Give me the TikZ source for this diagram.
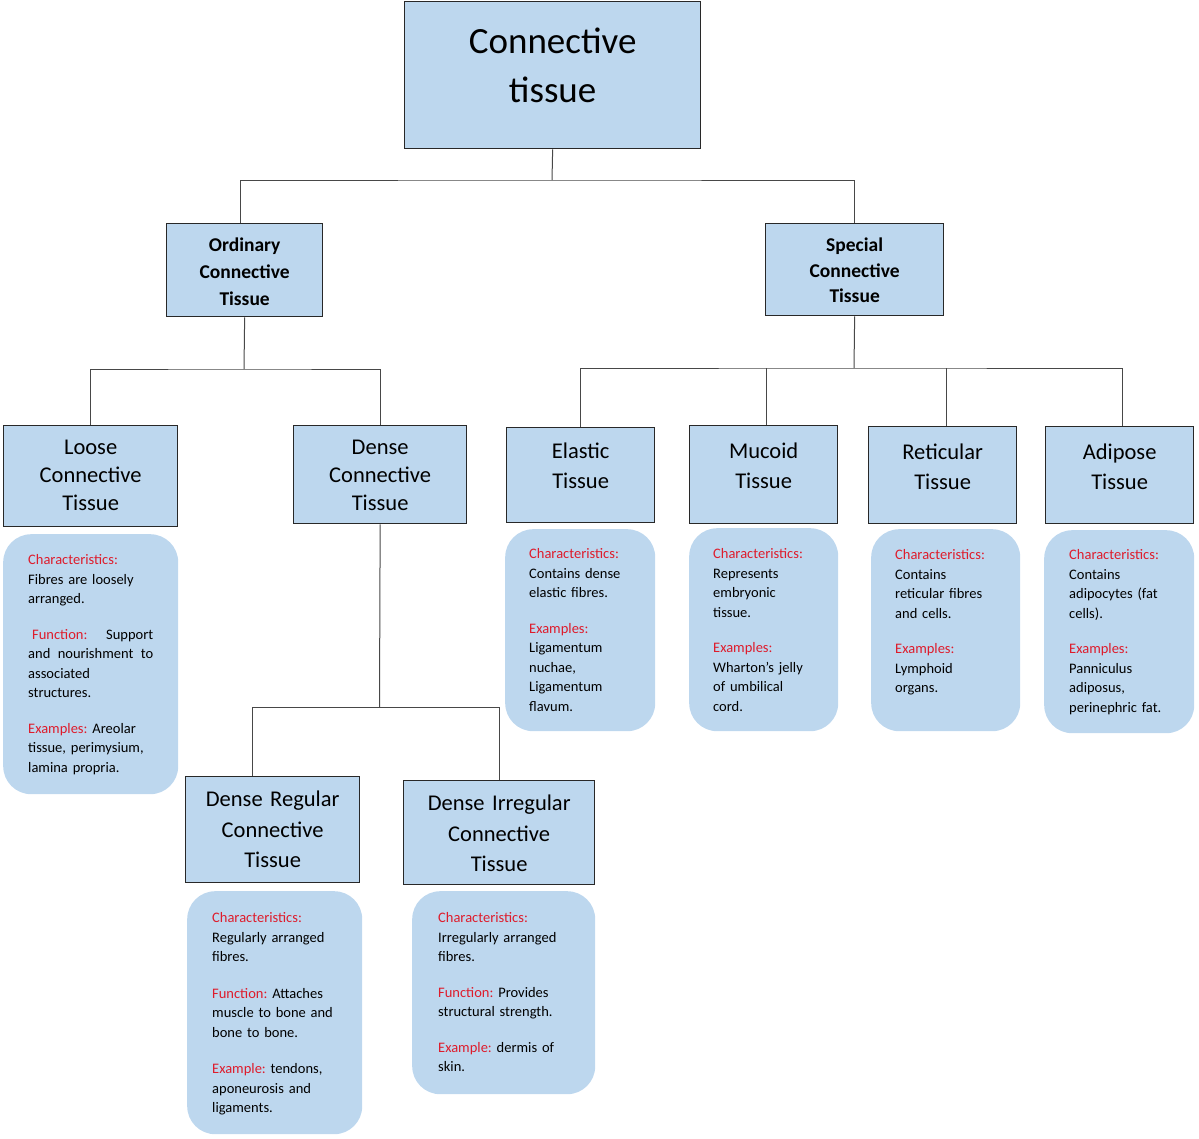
\documentclass[tikz,border=0pt]{standalone}
\usepackage{fontspec}
\setmainfont{Carlito}
\frenchspacing

\definecolor{boxblue}{RGB}{189,215,238}
\definecolor{lblred}{RGB}{222,28,44}
\definecolor{edgegray}{RGB}{40,40,40}
\newcommand\lbl[1]{\textcolor{lblred}{#1}}

\begin{document}
\begin{tikzpicture}[x=1pt, y=-1pt,
  tbox/.style={draw=edgegray, line width=1.3pt, fill=boxblue, inner sep=0pt, align=center, anchor=north west},
  infobox/.style={fill=boxblue, rounded corners=28pt, inner xsep=25pt, inner ysep=0pt, align=left, anchor=north west,
    font=\fontsize{14.5}{19.5}\selectfont},
  link/.style={draw=edgegray!85, line width=1pt}]
  \useasboundingbox (0,0) rectangle (1199,1138);

  % top level
  \node[tbox, text width=296pt, text height=52pt, text depth=95pt, font=\fontsize{37}{49}\selectfont] (root) at (404,1) {Connective\\tissue};
  \node[tbox, text width=156pt, text height=28pt, text depth=65pt, font=\bfseries\fontsize{19.5}{27}\selectfont] (ordinary) at (166,223) {Ordinary\\Connective\\Tissue};
  \node[tbox, text width=178pt, text height=28pt, text depth=64pt, font=\bfseries\fontsize{19.5}{25.5}\selectfont] (special) at (765,223) {Special\\Connective\\Tissue};

  % ordinary branch
  \node[tbox, text width=174pt, text height=29pt, text depth=72pt, font=\fontsize{22.5}{28}\selectfont] (loose) at (3,425) {Loose\\Connective\\Tissue};
  \node[tbox, text width=173pt, text height=29pt, text depth=69pt, font=\fontsize{22.5}{28}\selectfont] (dense) at (293,425) {Dense\\Connective\\Tissue};
  \node[tbox, text width=174pt, text height=30pt, text depth=76pt, font=\fontsize{22.5}{30.5}\selectfont] (dreg) at (185,776) {Dense Regular\\Connective\\Tissue};
  \node[tbox, text width=191pt, text height=30pt, text depth=74pt, font=\fontsize{22.5}{30.5}\selectfont] (dirr) at (403,780) {Dense Irregular\\Connective\\Tissue};

  % special branch
  \node[tbox, text width=148pt, text height=31pt, text depth=64pt, font=\fontsize{22.5}{30}\selectfont] (elastic) at (506,427) {Elastic\\Tissue};
  \node[tbox, text width=148pt, text height=33pt, text depth=65pt, font=\fontsize{22.5}{30}\selectfont] (mucoid) at (689,425) {Mucoid\\Tissue};
  \node[tbox, text width=148pt, text height=33pt, text depth=64pt, font=\fontsize{22.5}{30}\selectfont] (reticular) at (868,426) {Reticular\\Tissue};
  \node[tbox, text width=148pt, text height=33pt, text depth=64pt, font=\fontsize{22.5}{30}\selectfont] (adipose) at (1045,426) {Adipose\\Tissue};

  % info panels
  \node[infobox, text width=125pt, text height=30.5pt, text depth=229.5pt] (looseinfo) at (3,534)
    {\lbl{Characteristics:}\\ Fibres are loosely\\ arranged.\\[16pt]
     \hspace*{4pt}\lbl{Function:}\hfill Support\\ and\hfill nourishment\hfill to\\ associated\\ structures.\\[16pt]
     \lbl{Examples:} Areolar\\ tissue, perimysium,\\ lamina propria.};
  \node[infobox, inner xsep=24pt, text width=102pt, text height=29.5pt, text depth=172.5pt] (elasticinfo) at (505,529)
    {\lbl{Characteristics:}\\ Contains dense\\ elastic fibres.\\[16pt]
     \lbl{Examples:}\\ Ligamentum\\ nuchae,\\ Ligamentum\\ flavum.};
  \node[infobox, inner xsep=24pt, text width=101pt, text height=30.5pt, text depth=172.5pt] (mucoidinfo) at (689,528)
    {\lbl{Characteristics:}\\ Represents\\ embryonic\\ tissue.\\[16pt]
     \lbl{Examples:}\\ Wharton’s jelly\\ of umbilical\\ cord.};
  \node[infobox, inner xsep=24pt, text width=101pt, text height=30.5pt, text depth=171.5pt] (reticularinfo) at (871,529)
    {\lbl{Characteristics:}\\ Contains\\ reticular fibres\\ and cells.\\[16pt]
     \lbl{Examples:}\\ Lymphoid\\ organs.};
  \node[infobox, text width=100pt, text height=29.5pt, text depth=173.5pt] (adiposeinfo) at (1044,530)
    {\lbl{Characteristics:}\\ Contains\\ adipocytes (fat\\ cells).\\[16pt]
     \lbl{Examples:}\\ Panniculus\\ adiposus,\\ perinephric fat.};
  \node[infobox, text width=125pt, text height=31.5pt, text depth=211.5pt] (dreginfo) at (187,891)
    {\lbl{Characteristics:}\\ Regularly arranged\\ fibres.\\[17pt]
     \lbl{Function:} Attaches\\ muscle to bone and\\ bone to bone.\\[17pt]
     \lbl{Example:} tendons,\\ aponeurosis and\\ ligaments.};
  \node[infobox, inner xsep=26pt, text width=131pt, text height=31.5pt, text depth=171.5pt] (dirrinfo) at (412,891)
    {\lbl{Characteristics:}\\ Irregularly arranged\\ fibres.\\[16pt]
     \lbl{Function:} Provides\\ structural strength.\\[16pt]
     \lbl{Example:} dermis of\\ skin.};

  % connectors
  \coordinate (bustop) at (552,180);
  \coordinate (busord) at (244,369);
  \coordinate (busspec) at (854,368);
  \coordinate (busdense) at (379.5,707);
  \draw[link] (root.south) -- (bustop);
  \draw[link] ([xshift=-4pt]ordinary.north) |- (bustop) -| (special.north);
  \draw[link] (ordinary.south) -- (busord);
  \draw[link] (loose.north) |- (busord) -| (dense.north);
  \draw[link] (special.south) -- (busspec);
  \draw[link] (elastic.north) |- (busspec) -| ([xshift=3pt]adipose.north);
  \draw[link] ([xshift=3pt]mucoid.north) -- ([xshift=3pt]mucoid.north |- busspec);
  \draw[link] ([xshift=4pt]reticular.north) -- ([xshift=4pt]reticular.north |- busspec);
  \draw[link] (dense.south) -- (busdense);
  \draw[link] ([xshift=-20pt]dreg.north) |- (busdense) -| (dirr.north);
\end{tikzpicture}
\end{document}
